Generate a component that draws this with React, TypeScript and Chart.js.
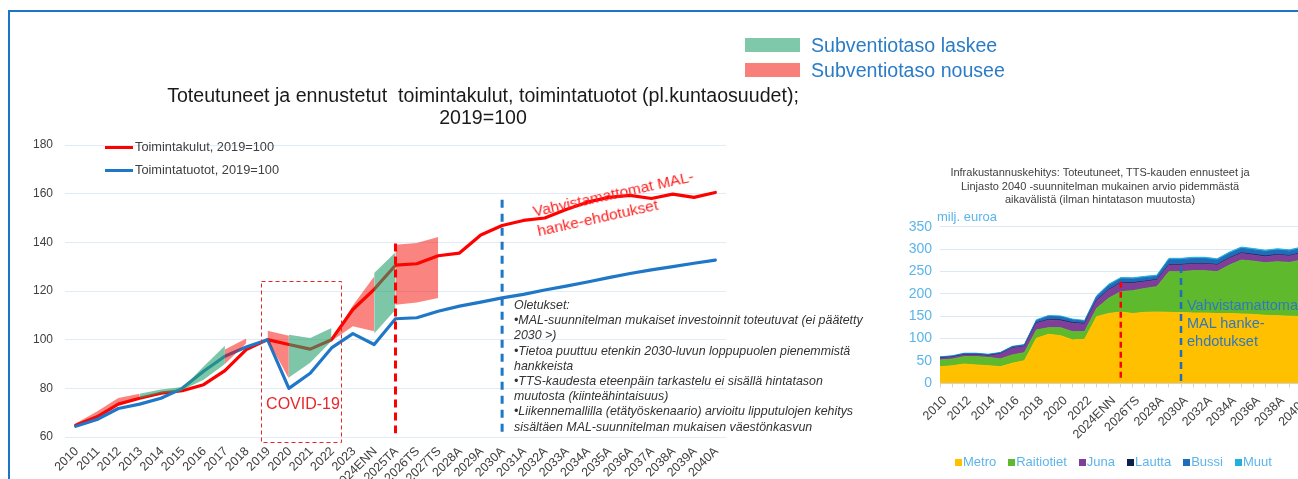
import React, { useEffect, useRef } from 'react';
import { Chart, registerables } from 'chart.js';

Chart.register(...registerables);
Chart.defaults.font.family = "'Liberation Sans', Arial, sans-serif";

const categories = [
  '2010', '2011', '2012', '2013', '2014', '2015', '2016', '2017', '2018', '2019', '2020', '2021', '2022', '2023',
  '2024ENN', '2025TA', '2026TS', '2027TS',
  '2028A', '2029A', '2030A', '2031A', '2032A', '2033A', '2034A', '2035A', '2036A', '2037A', '2038A', '2039A', '2040A',
];

// Left chart: index 2019 = 100
const toimintakulut = [64.8, 68.3, 73.5, 75.9, 78, 79, 81.5, 87.3, 95.9, 100, 98, 96.1, 100, 112.4, 120.7, 130.6, 131.2, 134.5, 135.6, 143, 146.9, 149, 150, 153.5, 156.5, 158.5, 159.3, 158, 159.8, 158.5, 160.5];
const toimintatuotot = [64.4, 67.2, 71.7, 73.5, 75.9, 80, 87, 93.2, 97, 100, 80, 86.2, 96.6, 102.5, 98, 108.6, 109, 111.7, 113.8, 115.4, 117.2, 118.6, 120.4, 122, 123.7, 125.5, 127.2, 128.7, 130, 131.4, 132.7];

// Subsidy-level bands (start index, upper and lower edges)
const bandStart = [0, 3, 5, 7, 9, 10, 12, 14, 15];
const bandType = ['nousee', 'laskee', 'laskee', 'nousee', 'nousee', 'laskee', 'nousee', 'laskee', 'nousee'];
const bandUpper = [
  [65.5, 70.5, 76, 77.8], [77.8, 79.5, 80.5], [80, 89, 97.5], [96, 100.5], [103.7, 101.6],
  [102, 100.7, 104.8], [100, 114, 126], [127.4, 135.9], [139, 139.7, 142.2],
];
const bandLower = [
  [64.8, 68.3, 73.5, 75.9], [75.9, 78, 79], [79.3, 83.5, 90], [90, 98.5], [100, 84],
  [84.5, 90.5, 99.5], [99.5, 105.5, 103.5], [102.5, 112.3], [114.4, 115.3, 117.1],
];

// Right chart: milj. euroa
const metro = [37, 39, 43, 41, 39.5, 37, 44.7, 50.6, 100.5, 109.5, 106.5, 96.8, 98.3, 149, 156, 159.3, 156, 158.6, 159.3, 158.6, 158, 157, 157, 156, 156, 155, 154, 152, 151, 150, 149];
const raitiotiet = [15, 15, 16.6, 18.6, 18.5, 17.4, 18.6, 17.9, 18.5, 14.8, 17.8, 18.6, 17.1, 18.5, 34, 45.5, 51, 53.4, 56.7, 90.8, 91.4, 94.7, 94.7, 93.4, 108, 120.5, 119, 117.5, 120.8, 120, 126.5];
const juna = [3.8, 4, 3.7, 3.7, 3, 11.1, 14.9, 13.5, 15, 17.2, 15.7, 18.6, 17.1, 17.2, 18.5, 18.6, 16.4, 15, 14.8, 14.9, 14.9, 14.9, 14.9, 14.9, 15, 14.9, 13.7, 13.5, 14.9, 14.4, 14.9];
const lautta = [0.5, 0.5, 0.5, 0.5, 1, 0.5, 0.5, 0.5, 1, 1, 1.5, 1.5, 1, 1, 1, 1, 1.5, 1, 1, 1, 1, 1, 1, 1, 1, 1, 1.5, 1.5, 1, 1, 1];
const bussi = [2, 2, 2.5, 2.5, 2, 2, 3, 3, 5, 7, 7, 6, 5, 8, 9, 9, 8, 8, 7, 11, 11, 11, 11, 10, 10, 10, 10, 10, 10, 10, 10];
const muut = [1, 1, 1, 1, 1, 1, 1, 1, 2, 2, 2, 2, 2, 2, 3, 3, 3, 3, 3, 3, 3, 3, 3, 3, 3, 3, 3, 3, 3, 3, 3];

const rightSeriesNames = ['Metro', 'Raitiotiet', 'Juna', 'Lautta', 'Bussi', 'Muut'];
const rightSeries = [metro, raitiotiet, juna, lautta, bussi, muut];
const rightColors = ['#ffc000', '#5fb92d', '#7f3f98', '#0d1f4f', '#1f6cb8', '#1fb0e0'];

const RED = '#ff0000';
const BLUE = '#1f77c8';
const BAND_COLORS: Record<string, string> = {
  laskee: 'rgba(40,160,110,0.6)',
  nousee: 'rgba(245,10,0,0.5)',
};

function padBand(start: number, vals: number[]) {
  return categories.map((_, i) => (i >= start && i < start + vals.length ? vals[i - start] : null));
}

function drawVLine(chart: any, idx: number, v1: number, v2: number, color: string, w: number, dash: number[]) {
  const { ctx } = chart;
  const px = chart.scales.x.getPixelForValue(idx);
  ctx.save();
  ctx.strokeStyle = color;
  ctx.lineWidth = w;
  ctx.setLineDash(dash);
  ctx.beginPath();
  ctx.moveTo(px, chart.scales.y.getPixelForValue(v1));
  ctx.lineTo(px, chart.scales.y.getPixelForValue(v2));
  ctx.stroke();
  ctx.restore();
}

const leftMarks = {
  id: 'leftMarks',
  afterDatasetsDraw(chart: any) {
    const { ctx } = chart;
    const x = chart.scales.x;
    const y = chart.scales.y;
    drawVLine(chart, 15, 139.5, 61.5, RED, 3, [8, 5]);
    drawVLine(chart, 20, 157.5, 61.5, BLUE, 3, [8, 6]);
    // COVID-19 box
    const x1 = x.getPixelForValue(8.7);
    const x2 = x.getPixelForValue(12.45);
    const y1 = y.getPixelForValue(124.2);
    const y2 = y.getPixelForValue(57.9);
    ctx.save();
    ctx.strokeStyle = '#e8262a';
    ctx.lineWidth = 1;
    ctx.setLineDash([4, 3]);
    ctx.strokeRect(Math.round(x1) + 0.5, Math.round(y1) + 0.5, Math.round(x2 - x1), Math.round(y2 - y1));
    ctx.restore();
  },
};

const rightMarks = {
  id: 'rightMarks',
  afterDatasetsDraw(chart: any) {
    drawVLine(chart, 15, 227, 5, RED, 2.5, [6, 4]);
    drawVLine(chart, 20, 262, 3, '#1f6cc0', 2.5, [7, 5]);
  },
};

function leftConfig(): any {
  const bandSets: any[] = [];
  bandStart.forEach((s, k) => {
    bandSets.push({
      data: padBand(s, bandUpper[k]),
      borderWidth: 0,
      borderColor: 'transparent',
      backgroundColor: BAND_COLORS[bandType[k]],
      fill: '+1',
      pointRadius: 0,
      spanGaps: false,
    });
    bandSets.push({
      data: padBand(s, bandLower[k]),
      borderWidth: 0,
      borderColor: 'transparent',
      fill: false,
      pointRadius: 0,
      spanGaps: false,
    });
  });
  return {
    type: 'line',
    data: {
      labels: categories,
      datasets: [
        ...bandSets,
        { label: 'Toimintatuotot, 2019=100', data: toimintatuotot, borderColor: BLUE, borderWidth: 3.2, fill: false, pointRadius: 0 },
        { label: 'Toimintakulut, 2019=100', data: toimintakulut, borderColor: RED, borderWidth: 3.2, fill: false, pointRadius: 0 },
      ],
    },
    options: {
      responsive: false,
      animation: false,
      layout: { padding: { left: 12, right: 44, top: 145, bottom: 63 } },
      plugins: { legend: { display: false }, tooltip: { enabled: false } },
      elements: { line: { tension: 0, borderCapStyle: 'round', borderJoinStyle: 'round' }, point: { radius: 0 } },
      scales: {
        x: {
          offset: true,
          grid: { display: false, drawTicks: false },
          border: { display: false },
          ticks: { autoSkip: false, maxRotation: 45, minRotation: 45, color: '#404040', font: { size: 12.5 }, padding: 7, labelOffset: 1 },
          afterFit: (s: any) => { s.height = 60; },
        },
        y: {
          min: 60,
          max: 180,
          ticks: { stepSize: 20, color: '#404040', font: { size: 12 }, padding: 12 },
          grid: { color: '#e1ebf5', drawTicks: false },
          border: { display: false },
          afterFit: (s: any) => { s.width = 53; },
        },
      },
    },
    plugins: [leftMarks],
  };
}

function rightConfig(): any {
  return {
    type: 'line',
    data: {
      labels: categories,
      datasets: rightSeries.map((d, i) => ({
        label: rightSeriesNames[i],
        data: d,
        backgroundColor: rightColors[i],
        borderColor: rightColors[i],
        borderWidth: 1,
        fill: i === 0 ? 'origin' : '-1',
        pointRadius: 0,
      })),
    },
    options: {
      responsive: false,
      animation: false,
      layout: { padding: { left: 5, right: 38.5, top: 76.7, bottom: 36.7 } },
      plugins: { legend: { display: false }, tooltip: { enabled: false } },
      elements: { line: { tension: 0 }, point: { radius: 0 } },
      scales: {
        x: {
          offset: false,
          grid: { display: true, drawOnChartArea: false, drawTicks: true, tickLength: 4, color: '#d4d4d4' },
          border: { display: true, color: '#d4d4d4' },
          ticks: {
            autoSkip: false,
            maxRotation: 45,
            minRotation: 45,
            color: '#404040',
            font: { size: 12.5 },
            padding: 6,
            labelOffset: 5,
            callback: (_v: any, idx: number) => (idx % 2 === 0 ? categories[idx] : ''),
          },
          afterFit: (s: any) => { s.height = 60; },
        },
        y: {
          stacked: true,
          min: 0,
          max: 350,
          ticks: { stepSize: 50, color: '#5bb5ea', font: { size: 14 }, padding: 8 },
          grid: { color: '#dde8f3', drawTicks: false },
          border: { display: false },
          afterFit: (s: any) => { s.width = 55; },
        },
      },
    },
    plugins: [rightMarks],
  };
}

const oletukset = [
  'Oletukset:',
  '•MAL-suunnitelman mukaiset investoinnit toteutuvat (ei päätetty',
  '2030 >)',
  '•Tietoa puuttuu etenkin 2030-luvun loppupuolen pienemmistä',
  'hankkeista',
  '•TTS-kaudesta eteenpäin tarkastelu ei sisällä hintatason',
  'muutosta (kiinteähintaisuus)',
  '•Liikennemallilla (etätyöskenaario) arvioitu lipputulojen kehitys',
  'sisältäen MAL-suunnitelman mukaisen väestönkasvun',
];

const abs = (o: React.CSSProperties): React.CSSProperties => ({ position: 'absolute', ...o });

export default function App() {
  const leftRef = useRef<HTMLCanvasElement>(null);
  const rightRef = useRef<HTMLCanvasElement>(null);

  useEffect(() => {
    const c1 = new Chart(leftRef.current as HTMLCanvasElement, leftConfig());
    const c2 = new Chart(rightRef.current as HTMLCanvasElement, rightConfig());
    return () => {
      c1.destroy();
      c2.destroy();
    };
  }, []);

  return (
    <div
      style={{
        position: 'fixed',
        left: 0,
        top: 0,
        width: 1298,
        height: 479,
        overflow: 'hidden',
        background: '#ffffff',
        fontFamily: "'Liberation Sans', Arial, sans-serif",
      }}
    >
      <canvas ref={leftRef} width={770} height={560} style={abs({ left: 0, top: 0, width: 770, height: 560 })} />
      <canvas ref={rightRef} width={460} height={330} style={abs({ left: 880, top: 150, width: 460, height: 330 })} />

      {/* frame */}
      <div style={abs({ left: 8, top: 10, width: 1290, height: 2, background: '#1c74c6' })} />
      <div style={abs({ left: 8, top: 10, width: 2, height: 469, background: '#1c74c6' })} />

      {/* top legend */}
      <div style={abs({ left: 745, top: 38, width: 55, height: 14, background: '#7fc8a9' })} />
      <div style={abs({ left: 811, top: 34, fontSize: 19.6, lineHeight: '22px', color: '#2a7cc7', whiteSpace: 'nowrap' })}>Subventiotaso laskee</div>
      <div style={abs({ left: 745, top: 63, width: 55, height: 14, background: '#f9807a' })} />
      <div style={abs({ left: 811, top: 59, fontSize: 19.6, lineHeight: '22px', color: '#2a7cc7', whiteSpace: 'nowrap' })}>Subventiotaso nousee</div>

      {/* left title */}
      <div style={abs({ left: 0, top: 84, width: 966, textAlign: 'center', fontSize: 19.6, lineHeight: '22px', color: '#1a1a1a' })}>
        <div style={{ whiteSpace: 'pre' }}>Toteutuneet ja ennustetut  toimintakulut, toimintatuotot (pl.kuntaosuudet);</div>
        <div>2019=100</div>
      </div>

      {/* left legend */}
      <div style={abs({ left: 105, top: 146, width: 28, height: 3, background: RED })} />
      <div style={abs({ left: 135, top: 139, fontSize: 12.8, lineHeight: '16px', color: '#404040', whiteSpace: 'nowrap' })}>Toimintakulut, 2019=100</div>
      <div style={abs({ left: 105, top: 169, width: 28, height: 3, background: BLUE })} />
      <div style={abs({ left: 135, top: 162, fontSize: 12.8, lineHeight: '16px', color: '#404040', whiteSpace: 'nowrap' })}>Toimintatuotot, 2019=100</div>

      {/* COVID label */}
      <div style={abs({ left: 253, top: 395, width: 100, textAlign: 'center', fontSize: 16, lineHeight: '18px', color: '#e8262a' })}>COVID-19</div>

      {/* red rotated annotation */}
      <div
        style={abs({
          left: 531,
          top: 202,
          fontSize: 15.5,
          lineHeight: '20px',
          color: '#ff1f1f',
          whiteSpace: 'pre',
          transform: 'rotate(-12.5deg)',
          transformOrigin: '0 0',
        })}
      >
        {'Vahvistamattomat MAL-\nhanke-ehdotukset'}
      </div>

      {/* assumptions */}
      <div style={abs({ left: 514, top: 298, fontSize: 12.4, lineHeight: '15.2px', fontStyle: 'italic', color: '#333333', whiteSpace: 'pre' })}>
        {oletukset.join('\n')}
      </div>

      {/* right title */}
      <div style={abs({ left: 900, top: 166, width: 400, textAlign: 'center', fontSize: 11, lineHeight: '13.5px', color: '#404040' })}>
        <div>Infrakustannuskehitys: Toteutuneet, TTS-kauden ennusteet ja</div>
        <div>Linjasto 2040 -suunnitelman mukainen arvio pidemmästä</div>
        <div>aikavälistä (ilman hintatason muutosta)</div>
      </div>
      <div style={abs({ left: 937, top: 209, fontSize: 13, lineHeight: '16px', color: '#5bb5ea', whiteSpace: 'nowrap' })}>milj. euroa</div>

      {/* right annotation */}
      <div style={abs({ left: 1187, top: 296, fontSize: 14.5, lineHeight: '18px', color: '#2f78bf', whiteSpace: 'pre' })}>
        {'Vahvistamattomat\nMAL hanke-\nehdotukset'}
      </div>

      {/* right legend */}
      <div style={abs({ left: 955, top: 454, display: 'flex', gap: 12, fontSize: 13, lineHeight: '16px', color: '#5bb5ea', whiteSpace: 'nowrap' })}>
        {rightSeriesNames.map((n, i) => (
          <div key={n} style={{ display: 'flex', alignItems: 'center' }}>
            <span style={{ display: 'inline-block', width: 7, height: 7, background: rightColors[i], marginRight: 1 }} />
            <span>{n}</span>
          </div>
        ))}
      </div>
    </div>
  );
}
